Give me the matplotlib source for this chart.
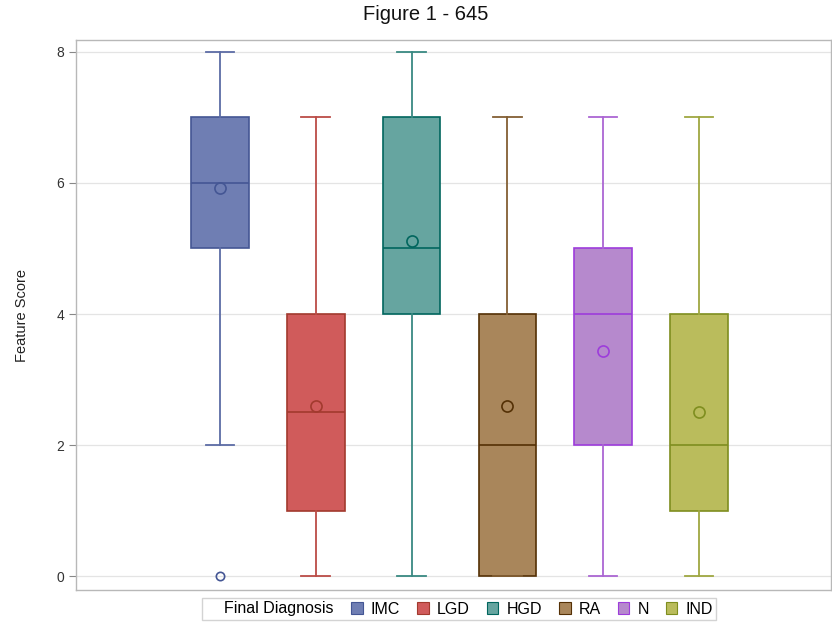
import matplotlib
matplotlib.use("Agg")
import matplotlib.pyplot as plt
from matplotlib.colors import to_rgb
from matplotlib.patches import Patch

plt.rcParams['font.family'] = ['Liberation Sans', 'DejaVu Sans']

# box plot statistics per final diagnosis group
groups = ["IMC", "LGD", "HGD", "RA", "N", "IND"]
whis_lo = [2, 0, 0, 0, 0, 0]
q1 = [5, 1, 4, 0, 2, 1]
medians = [6, 2.5, 5, 2, 4, 2]
q3 = [7, 4, 7, 4, 5, 4]
whis_hi = [8, 7, 8, 7, 7, 7]
means = [5.92, 2.6, 5.11, 2.6, 3.44, 2.5]
outliers = [[0], [], [], [], [], []]

fill_colors = ["#6F7EB3", "#D05B5B", "#66A5A0", "#A9865B", "#B689CD", "#BABC5C"]
line_colors = ["#445694", "#A23A2E", "#01665E", "#543005", "#9D3CDB", "#7F8E1F"]


def mix(a, b, t=0.5):
    a, b = to_rgb(a), to_rgb(b)
    return tuple(x * (1 - t) + y * t for x, y in zip(a, b))


fig = plt.figure(figsize=(8.32, 6.26), dpi=100)
ax = fig.add_axes([76 / 832, 1 - 590 / 626, (831 - 76) / 832, 550 / 626])

for i, g in enumerate(groups):
    stats = [dict(label=g, whislo=whis_lo[i], q1=q1[i], med=medians[i], q3=q3[i],
                  whishi=whis_hi[i], mean=means[i], fliers=outliers[i])]
    ec = line_colors[i]
    wc = mix(fill_colors[i], line_colors[i], 0.45)
    ax.bxp(stats, positions=[i + 1], widths=0.6, patch_artist=True, showmeans=True,
           boxprops=dict(facecolor=fill_colors[i], edgecolor=ec, linewidth=1.2),
           medianprops=dict(color=ec, linewidth=1.2),
           whiskerprops=dict(color=wc, linewidth=1.3),
           capprops=dict(color=wc, linewidth=1.3),
           capwidths=0.3,
           meanprops=dict(marker="o", markerfacecolor="none", markeredgecolor=ec,
                          markersize=8, markeredgewidth=1.2),
           flierprops=dict(marker="o", markerfacecolor="none", markeredgecolor=ec,
                           markersize=6, markeredgewidth=1.2))

ax.set_xlim(-0.505, 7.38)
ax.set_ylim(-0.21, 8.18)
ax.set_yticks([0, 2, 4, 6, 8])
ax.set_xticks([])
ax.yaxis.grid(True, color="#E4E4E4", linewidth=0.9)
ax.set_axisbelow(True)
for s in ax.spines.values():
    s.set_color("#B8B8B8")
    s.set_linewidth(1.0)
ax.tick_params(axis="y", labelsize=10, labelcolor="#333333", color="#888888", length=5, width=0.8)
ax.set_ylabel("Feature Score", fontsize=10.5, color="#222222", labelpad=20)

fig.text(426 / 832, 1 - 15 / 626, "Figure 1 - 645", ha="center", va="center", fontsize=14.5, color="#111111")

handles = [Patch(facecolor="none", edgecolor="none")]
labels = ["Final Diagnosis"]
for i, g in enumerate(groups):
    handles.append(Patch(facecolor=fill_colors[i], edgecolor=line_colors[i], linewidth=0.8))
    labels.append(g)
leg = fig.legend(handles, labels, loc="center", bbox_to_anchor=(459 / 832, 1 - 609 / 626),
                 ncol=7, fontsize=11.5, frameon=True, fancybox=False,
                 handlelength=0.7, handleheight=0.7, handletextpad=0.5,
                 columnspacing=1.1, borderpad=0.2)
leg.get_frame().set_edgecolor("#C8C8C8")
leg.get_frame().set_linewidth(1.0)

fig.savefig("out.png", dpi=100)
